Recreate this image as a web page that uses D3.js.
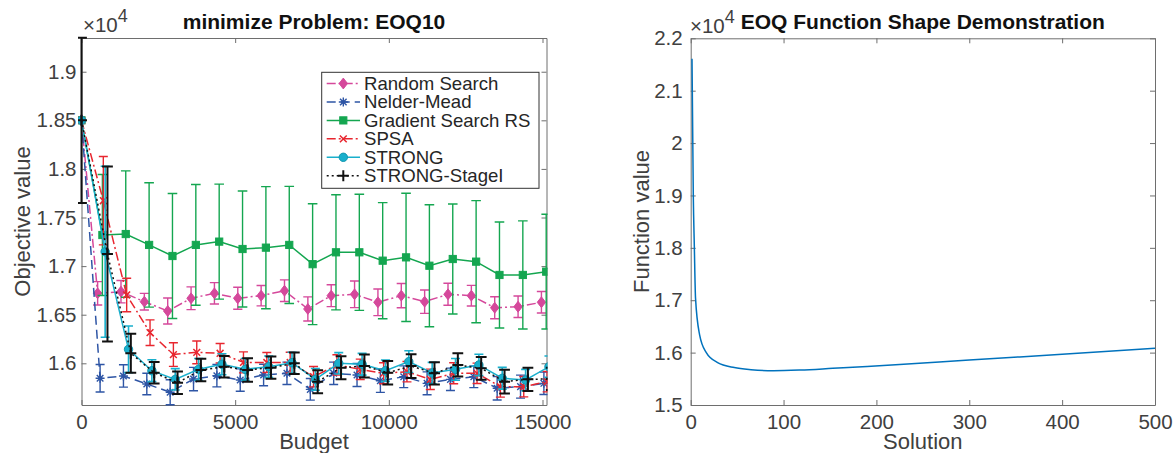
<!DOCTYPE html>
<html>
<head>
<meta charset="utf-8">
<script src="https://cdn.jsdelivr.net/npm/d3@7"></script>
<style>
  html, body { margin: 0; padding: 0; background: #fff; }
  svg { display: block; font-family: "Liberation Sans", Arial, Helvetica, sans-serif; }
</style>
</head>
<body>
<svg id="fig" width="1176" height="453"></svg>
<script>
// ---------------- data: optimisation runs on EOQ10 ----------------
const budgets = [0, 680, 1440, 2200, 2960, 3720, 4480, 5240, 6000, 6760, 7520,
                 8280, 9040, 9800, 10560, 11320, 12080, 12840, 13600, 14360, 15120];
const seriesNames = ["Random Search", "Nelder-Mead", "Gradient Search RS", "SPSA", "STRONG", "STRONG-StageI"];
// small budget shift per algorithm so the error bars do not sit on top of each other
const budgetOffsets = [-155, -75, 0, 30, 90, 165];

const rsMean = [18500, 16720, 16737, 16634, 16538, 16669, 16720, 16669, 16696, 16747, 16559,
                16696, 16710, 16628, 16696, 16634, 16710, 16696, 16572, 16582, 16628];
const rsErr  = [0, 120, 115, 86, 134, 117, 110, 113, 105, 111, 124,
                113, 137, 137, 125, 120, 113, 106, 113, 111, 111];

const nmMean = [18500, 15846, 15870, 15787, 15702, 15838, 15872, 15828, 15880, 15897, 15732,
                15897, 15880, 15821, 15862, 15794, 15835, 15862, 15743, 15760, 15794];
const nmErr  = [0, 142, 115, 111, 129, 120, 115, 115, 111, 115, 111,
                115, 118, 120, 112, 118, 115, 112, 120, 118, 115];

const gsMean = [18500, 17320, 17330, 17218, 17104, 17218, 17252, 17176, 17190, 17218, 17020,
                17142, 17142, 17056, 17090, 17004, 17073, 17046, 16909, 16909, 16943];
const gsErr  = [0, 622, 650, 640, 643, 621, 592, 597, 628, 602, 622,
                592, 597, 597, 660, 628, 566, 628, 545, 556, 590];

const spsaMean = [18500, 17673, 16703, 16315, 16090, 16113, 16103, 16010, 16008, 16008, 15862,
                  15983, 15938, 15897, 15914, 15835, 15897, 15897, 15760, 15760, 15811];
const spsaErr  = [0, 455, 172, 132, 122, 117, 100, 108, 103, 106, 105,
                  105, 105, 108, 105, 105, 108, 105, 108, 105, 105];

const strongMean = [18500, 17148, 16144, 15924, 15835, 15938, 15990, 15938, 15965, 16006, 15835,
                    16000, 15990, 15924, 16017, 15900, 15938, 15983, 15846, 15828, 15965];
const strongErr  = [0, 880, 240, 112, 110, 112, 108, 112, 110, 108, 112,
                    110, 112, 110, 112, 110, 112, 110, 112, 110, 110];

const stageMean = [18500, 17125, 16103, 15903, 15800, 15931, 15965, 15931, 15955, 16000, 15811,
                   15955, 15972, 15903, 15972, 15897, 15983, 15948, 15811, 15835, 15840];
const stageErr  = [850, 900, 200, 110, 116, 116, 110, 120, 115, 110, 118,
                   118, 118, 120, 122, 115, 120, 118, 122, 120, 115];

const leftXTicks = [0, 5000, 10000, 15000];
const leftYTicks = [16000, 16500, 17000, 17500, 18000, 18500, 19000];

// ---------------- data: EOQ cost curve ----------------
const eoqSolution = [1.4, 2.8, 3.9, 5.2, 9.6, 16.8, 29, 47, 65, 89, 118, 153, 190, 225, 300, 400, 500];
const eoqValue    = [21610, 18990, 18035, 17040, 16340, 16000, 15810, 15715, 15675, 15655, 15668,
                     15700, 15735, 15772, 15859, 15968, 16082];
const rightXTicks = [0, 100, 200, 300, 400, 500];
const rightYTicks = [15000, 16000, 17000, 18000, 19000, 20000, 21000, 22000];

// ---------------- drawing ----------------
const svg = d3.select("#fig");
const AXIS = "#6e6e6e", TICKTXT = "#404040";

function frame(x, y, xTicks, yTicks, xFmt, yFmt, yPad) {
  const [x0, x1] = x.range();
  const [yb, yt] = y.range();
  const g = svg.append("g");
  const parts = [
    [d3.axisBottom(x).tickValues(xTicks).tickFormat(xFmt).tickPadding(9), `translate(0,${yb})`],
    [d3.axisTop(x).tickValues(xTicks).tickFormat(""), `translate(0,${yt})`],
    [d3.axisLeft(y).tickValues(yTicks).tickFormat(yFmt).tickPadding(yPad), `translate(${x0},0)`],
    [d3.axisRight(y).tickValues(yTicks).tickFormat(""), `translate(${x1},0)`]
  ];
  parts.forEach(([ax, tr]) => {
    g.append("g").attr("transform", tr)
      .call(ax.tickSizeInner(-5).tickSizeOuter(0))
      .attr("font-family", null).attr("font-size", null);
  });
  g.selectAll(".domain, .tick line").attr("stroke", AXIS).attr("stroke-width", 1);
  g.selectAll(".tick text").attr("fill", TICKTXT).attr("font-size", "20.5px");
  return g;
}

function exponentLabel(xPos, yPos) {
  const t = svg.append("text").attr("x", xPos).attr("y", yPos)
    .attr("fill", TICKTXT).attr("font-size", "20.5px").text("\u00d710");
  t.append("tspan").attr("dy", -10).attr("font-size", "18px").text("4");
}

// ---------- left panel ----------
const xL = d3.scaleLinear().domain([0, 15130]).range([81.5, 546.5]);
const yL = d3.scaleLinear().domain([15571, 19347]).range([405, 38]);

const yFmt4 = d => String(+(d / 1e4).toFixed(3));

svg.append("defs").append("clipPath").attr("id", "clipL")
  .append("rect").attr("x", 78).attr("y", 34).attr("width", 469.5).attr("height", 374);

frame(xL, yL, leftXTicks, leftYTicks, d => String(d), yFmt4, 5);

const series = [
  { name: seriesNames[0], mean: rsMean, err: rsErr, shift: budgetOffsets[0], color: "#D5489B", dash: "9,3,2,3", marker: "diamond", cap: 4.6, ew: 1.4 },
  { name: seriesNames[1], mean: nmMean, err: nmErr, shift: budgetOffsets[1], color: "#2E55A5", dash: "9,5", marker: "asterisk", cap: 4.5, ew: 1.4 },
  { name: seriesNames[2], mean: gsMean, err: gsErr, shift: budgetOffsets[2], color: "#14A650", dash: null, marker: "square", cap: 4.8, ew: 1.4 },
  { name: seriesNames[3], mean: spsaMean, err: spsaErr, shift: budgetOffsets[3], color: "#E8262F", dash: "9,3,2,3", marker: "x", cap: 4.5, ew: 1.4 },
  { name: seriesNames[4], mean: strongMean, err: strongErr, shift: budgetOffsets[4], color: "#19AFCC", dash: null, marker: "circle", cap: 4.5, ew: 1.6 },
  { name: seriesNames[5], mean: stageMean, err: stageErr, shift: budgetOffsets[5], color: "#111111", dash: "2,3", marker: "plus", cap: 5.4, ew: 2 }
];

function drawMarker(g, type, cx, cy, color) {
  switch (type) {
    case "diamond":
      g.append("path").attr("d", `M${cx},${cy - 5.4}L${cx + 4.2},${cy}L${cx},${cy + 5.4}L${cx - 4.2},${cy}Z`)
        .attr("fill", color).attr("stroke", color).attr("stroke-width", 1);
      break;
    case "asterisk":
      g.append("path").attr("d",
        `M${cx - 4.5},${cy}h9M${cx},${cy - 4.5}v9M${cx - 3.3},${cy - 3.3}l6.6,6.6M${cx - 3.3},${cy + 3.3}l6.6,-6.6`)
        .attr("stroke", color).attr("stroke-width", 1.4).attr("fill", "none");
      break;
    case "square":
      g.append("rect").attr("x", cx - 3.6).attr("y", cy - 3.6).attr("width", 7.2).attr("height", 7.2)
        .attr("fill", color).attr("stroke", color).attr("stroke-width", 1);
      break;
    case "x":
      g.append("path").attr("d", `M${cx - 3.4},${cy - 3.4}l6.8,6.8M${cx - 3.4},${cy + 3.4}l6.8,-6.8`)
        .attr("stroke", color).attr("stroke-width", 1.5).attr("fill", "none");
      break;
    case "circle":
      g.append("circle").attr("cx", cx).attr("cy", cy).attr("r", 4.2)
        .attr("fill", color).attr("stroke", "#1297b0").attr("stroke-width", 1);
      break;
    case "plus":
      g.append("path").attr("d", `M${cx - 5.5},${cy}h11M${cx},${cy - 5.5}v11`)
        .attr("stroke", color).attr("stroke-width", 2).attr("fill", "none");
      break;
  }
}

const plotL = svg.append("g").attr("clip-path", "url(#clipL)");
const bx = (s, i) => xL(budgets[i] === 0 ? 0 : budgets[i] + s.shift);

series.forEach(s => {
  const g = plotL.append("g");
  const line = d3.line().x((d, i) => bx(s, i)).y(d => yL(d));
  g.append("path").datum(s.mean).attr("d", line)
    .attr("fill", "none").attr("stroke", s.color).attr("stroke-width", 1.5)
    .attr("stroke-dasharray", s.dash);
  // error bars
  s.mean.forEach((m, i) => {
    const e = s.err[i];
    if (!e) return;
    const cx = bx(s, i), top = yL(m + e), bot = yL(m - e);
    g.append("path")
      .attr("d", `M${cx},${top}V${bot}M${cx - s.cap},${top}H${cx + s.cap}M${cx - s.cap},${bot}H${cx + s.cap}`)
      .attr("stroke", s.color).attr("stroke-width", s.ew).attr("fill", "none");
  });
  s.mean.forEach((m, i) => drawMarker(g, s.marker, bx(s, i), yL(m), s.color));
});

// legend
const leg = svg.append("g");
leg.append("rect").attr("x", 321.7).attr("y", 72.3).attr("width", 217.3).attr("height", 116)
  .attr("fill", "#fff").attr("stroke", "#333").attr("stroke-width", 1);
series.forEach((s, k) => {
  const cy = 83.5 + k * 18.45;
  leg.append("line").attr("x1", 326.7).attr("x2", 360).attr("y1", cy).attr("y2", cy)
    .attr("stroke", s.color).attr("stroke-width", 1.5).attr("stroke-dasharray", s.dash);
  drawMarker(leg, s.marker, 343.3, cy, s.color);
  leg.append("text").attr("x", 364).attr("y", cy).attr("dy", "0.35em")
    .attr("font-size", "18.6px").attr("fill", "#262626").text(s.name);
});

svg.append("text").attr("x", 314).attr("y", 29).attr("text-anchor", "middle")
  .attr("font-size", "21px").attr("font-weight", "bold").attr("fill", "#111").text("minimize Problem: EOQ10");
svg.append("text").attr("x", 314).attr("y", 449).attr("text-anchor", "middle")
  .attr("font-size", "22px").attr("fill", TICKTXT).text("Budget");
svg.append("text").attr("transform", "translate(30,221.5) rotate(-90)").attr("text-anchor", "middle")
  .attr("font-size", "22px").attr("fill", TICKTXT).text("Objective value");
exponentLabel(83, 32);

// ---------- right panel ----------
const xR = d3.scaleLinear().domain([0, 500]).range([690.7, 1155]);
const yR = d3.scaleLinear().domain([15000, 22000]).range([405, 38.3]);

frame(xR, yR, rightXTicks, rightYTicks, d => String(d), yFmt4, 8);

svg.append("path")
  .datum(eoqSolution.map((q, i) => [q, eoqValue[i]]))
  .attr("d", d3.line().x(d => xR(d[0])).y(d => yR(d[1])).curve(d3.curveMonotoneX))
  .attr("fill", "none").attr("stroke", "#0072BD").attr("stroke-width", 1.5);

exponentLabel(690, 33);
svg.append("text").attr("x", 922.8).attr("y", 29).attr("text-anchor", "middle")
  .attr("font-size", "21px").attr("font-weight", "bold").attr("fill", "#111").text("EOQ Function Shape Demonstration");
svg.append("text").attr("x", 922.8).attr("y", 449).attr("text-anchor", "middle")
  .attr("font-size", "22px").attr("fill", TICKTXT).text("Solution");
svg.append("text").attr("transform", "translate(649,221.5) rotate(-90)").attr("text-anchor", "middle")
  .attr("font-size", "22px").attr("fill", TICKTXT).text("Function value");
</script>
</body>
</html>
